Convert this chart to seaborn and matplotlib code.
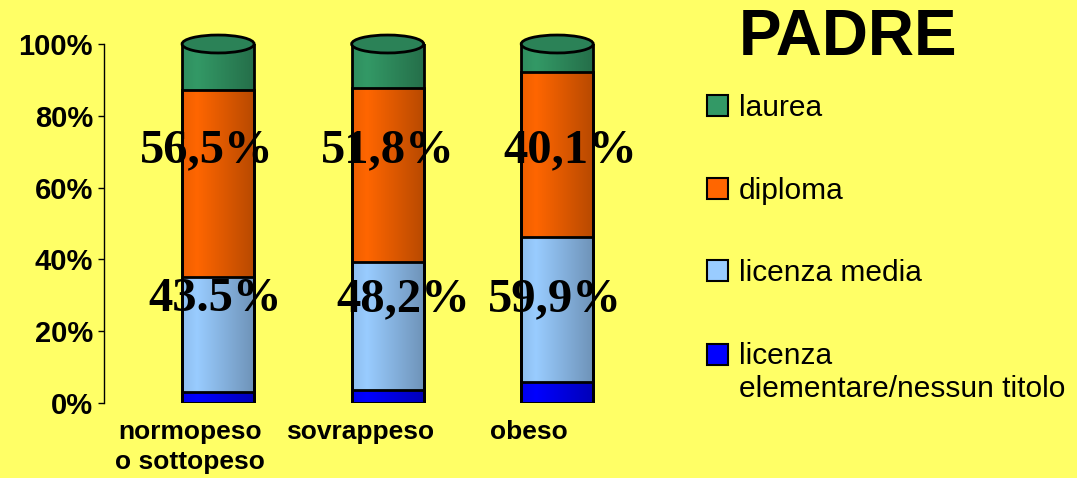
import numpy as np
import pandas as pd
import matplotlib
matplotlib.use("Agg")
import matplotlib.pyplot as plt
import matplotlib.colors as mcolors
from matplotlib.patches import Patch, Ellipse
from matplotlib.transforms import ScaledTranslation
import seaborn as sns

# ---------------- data ----------------
categories = ["normopeso\no sottopeso", "sovrappeso", "obeso"]
elementare = [3.1, 3.5, 5.8]
licenza_media = [32.0, 35.8, 40.4]
diploma = [52.1, 48.4, 46.0]
laurea = [12.8, 12.3, 7.8]
series_names = ["laurea", "diploma", "licenza media",
                "licenza\nelementare/nessun titolo"]
upper_labels = ["56,5%", "51,8%", "40,1%"]
lower_labels = ["43.5%", "48,2%", "59,9%"]
ytick_values = [0, 20, 40, 60, 80, 100]
ytick_labels = ["0%", "20%", "40%", "60%", "80%", "100%"]
title = "PADRE"

# ---------------- style ----------------
bg = "#FFFF66"
colors = {"laurea": "#339966", "diploma": "#FF6600",
          "licenza media": "#99CCFF",
          "licenza\nelementare/nessun titolo": "#0000FF"}

sns.set_style("white")
plt.rcParams["font.family"] = ["Liberation Sans", "DejaVu Sans"]
for key in ["text.color", "axes.labelcolor", "xtick.color", "ytick.color"]:
    plt.rcParams[key] = "black"

W, H = 1077, 478
fig = plt.figure(figsize=(W / 100, H / 100), dpi=100, facecolor=bg)
ax = fig.add_axes([104 / W, 75 / H, (642 - 104) / W, (403 - 44) / H])
ax.set_facecolor(bg)

# cumulative stacks (top layer drawn first)
c1 = np.array(elementare)
c2 = c1 + np.array(licenza_media)
c3 = c2 + np.array(diploma)
c4 = c3 + np.array(laurea)
layers = [(series_names[0], c4), (series_names[1], c3),
          (series_names[2], c2), (series_names[3], c1)]

prof_t = [0.0, 0.2, 1.0]
prof_f = [0.93, 1.0, 0.72]
tt = np.linspace(0, 1, 64)
fac = np.interp(tt, prof_t, prof_f)

top_patches = []
for k, (name, vals) in enumerate(layers):
    n0 = len(ax.patches)
    sns.barplot(x=categories, y=vals, order=categories, color=colors[name],
                saturation=1, width=0.425, edgecolor="black", linewidth=2.0,
                errorbar=None, ax=ax)
    base = np.array(mcolors.to_rgb(colors[name]))
    grad = np.clip(base[None, None, :] * fac[None, :, None], 0, 1)
    new = list(ax.patches[n0:])
    if k == 0:
        top_patches = new
    for p in new:
        x0, y0 = p.get_x(), p.get_y()
        im = ax.imshow(grad, extent=(x0, x0 + p.get_width(), y0, y0 + p.get_height()),
                       aspect="auto", interpolation="bilinear", zorder=2 + k)
        im.set_clip_path(p)
        # outline drawn above all fills
        p.set_facecolor("none")
        p.set_zorder(10)

# cylinder caps on top of each column
cap_color = np.clip(np.array(mcolors.to_rgb(colors[series_names[0]])) * 0.85, 0, 1)
for p in top_patches:
    cx = p.get_x() + p.get_width() / 2
    cy = p.get_y() + p.get_height()
    ax.add_patch(Ellipse((cx, cy), p.get_width(), 5.0, facecolor=cap_color,
                         edgecolor="black", linewidth=2.0, zorder=11, clip_on=False))

ax.set_xlim(-0.673, 2.5)
ax.set_ylim(0, 100)

for s in ["top", "right", "bottom"]:
    ax.spines[s].set_visible(False)
ax.spines["left"].set_color("black")
ax.spines["left"].set_linewidth(1.0)

ax.set_yticks(ytick_values)
ax.set_yticklabels(ytick_labels, fontsize=21, fontweight="bold")
ax.tick_params(axis="y", length=4.5, width=1, color="black", pad=3.5,
               direction="out", left=True)
ax.set_xticks(range(len(categories)))
ax.set_xticklabels(categories, fontsize=19, fontweight="bold", linespacing=1.35)
ax.tick_params(axis="x", length=0, pad=12)
shift = ScaledTranslation(-28 / 100, 0, fig.dpi_scale_trans)
for lab in ax.get_xticklabels():
    lab.set_transform(lab.get_transform() + shift)
ax.set_xlabel("")
ax.set_ylabel("")
ax.grid(False)

# value annotations
upper_dx = [-0.065, 0.003, 0.077]
lower_dx = [-0.018, 0.091, -0.012]
for i in range(len(categories)):
    ax.text(i + upper_dx[i], 67.1, upper_labels[i], ha="center", va="baseline",
            fontsize=35, fontweight="bold", family=["Liberation Serif", "DejaVu Serif"],
            zorder=30)
    ax.text(i + lower_dx[i], 25.6, lower_labels[i], ha="center", va="baseline",
            fontsize=35, fontweight="bold", family=["Liberation Serif", "DejaVu Serif"],
            zorder=30)

# title
fig.text(848 / W, 1 - 38 / H, title, ha="center", va="center",
         fontsize=46, fontweight="bold")

# legend
handles = [Patch(facecolor=colors[n], edgecolor="black", linewidth=1.5, label=n)
           for n in series_names]
leg = fig.legend(handles=handles, loc="upper left",
                 bbox_to_anchor=(707 / W, 1 - 94 / H), bbox_transform=fig.transFigure,
                 frameon=False, fontsize=21.5, handlelength=0.7, handleheight=0.7,
                 handletextpad=0.36, labelspacing=1.83, borderpad=0, borderaxespad=0)
leg.get_texts()[-1].set_linespacing(1.25)
lh = leg.legend_handles[-1]
lh.set_y(lh.get_y() + 0.62 * 21.5)

fig.savefig("out.png", dpi=100, facecolor=bg)
